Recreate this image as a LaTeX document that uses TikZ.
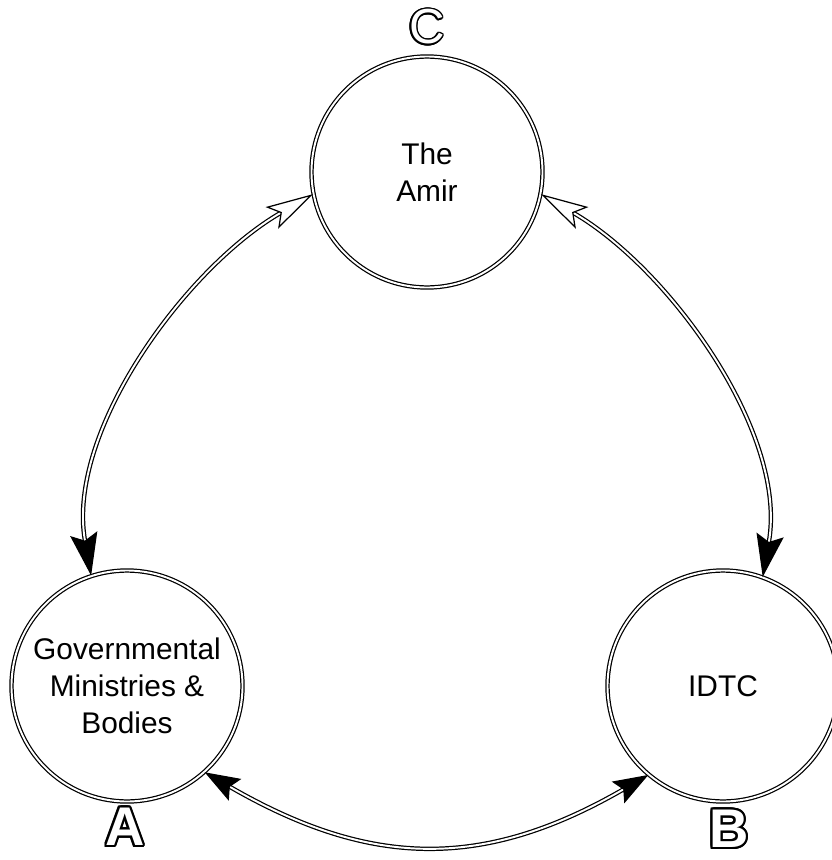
\documentclass[tikz,border=0pt]{standalone}
\usepackage{fontspec}
\setmainfont{Liberation Sans}
\usepackage{contour}
\usetikzlibrary{positioning,arrows.meta}

\begin{document}
\begin{tikzpicture}[
		party/.style={draw, circle, double, double distance=1.1pt, line width=0.7pt, minimum size=4.62cm, inner sep=0pt, align=center, font=\fontsize{17}{21}\selectfont},
		tag/.style={font=\fontsize{31}{31}\selectfont\bfseries},
		link/.style={double, double distance=1.1pt, line width=0.7pt},
		amir link/.style={link, {Stealth[open, fill=white, length=0.95cm, width=0.5cm, inset=0.2cm]}-{Stealth[length=0.85cm, width=0.55cm, inset=0.14cm]}},
		base link/.style={link, {Stealth[length=0.7cm, width=0.5cm, inset=0.12cm]}-{Stealth[length=0.7cm, width=0.5cm, inset=0.12cm]}}
		]
		\contourlength{1.3pt}
		\useasboundingbox (0,0) rectangle (16.64,-17.2);
		
		% ======================
		% Parties
		% ======================
		\node[party] (amir) at (8.54,-3.44) {The\\Amir};
		
		\node[party] (gov) at (2.54,-13.72) {Governmental\\Ministries \&\\Bodies};
		
		\node[party] (idtc) at (14.46,-13.72) {IDTC};
		
		% ======================
		% Letters
		% ======================
		\node[tag, font=\fontsize{28}{28}\selectfont] (labC) at (8.54,-0.55) {\contourlength{0.9pt}\contour{black}{\textcolor{white}{C}}};
		
		\node[tag] (labA) at (2.50,-16.56) {\contour{black}{\textcolor{white}{A}}};
		
		\node[tag] (labB) at (14.58,-16.60) {\contour{black}{\textcolor{white}{B}}};
		
		% ======================
		% CONNECTIONS
		% ======================
		\draw[amir link] (amir.191) to[out=210, in=100, looseness=0.85] (gov.108);
		\draw[amir link] (amir.349) to[out=-30, in=80, looseness=0.85] (idtc.70);
		\draw[base link] (gov.-48) to[out=-30, in=210, looseness=1.1] (idtc.230);
		
	\end{tikzpicture}
\end{document}
